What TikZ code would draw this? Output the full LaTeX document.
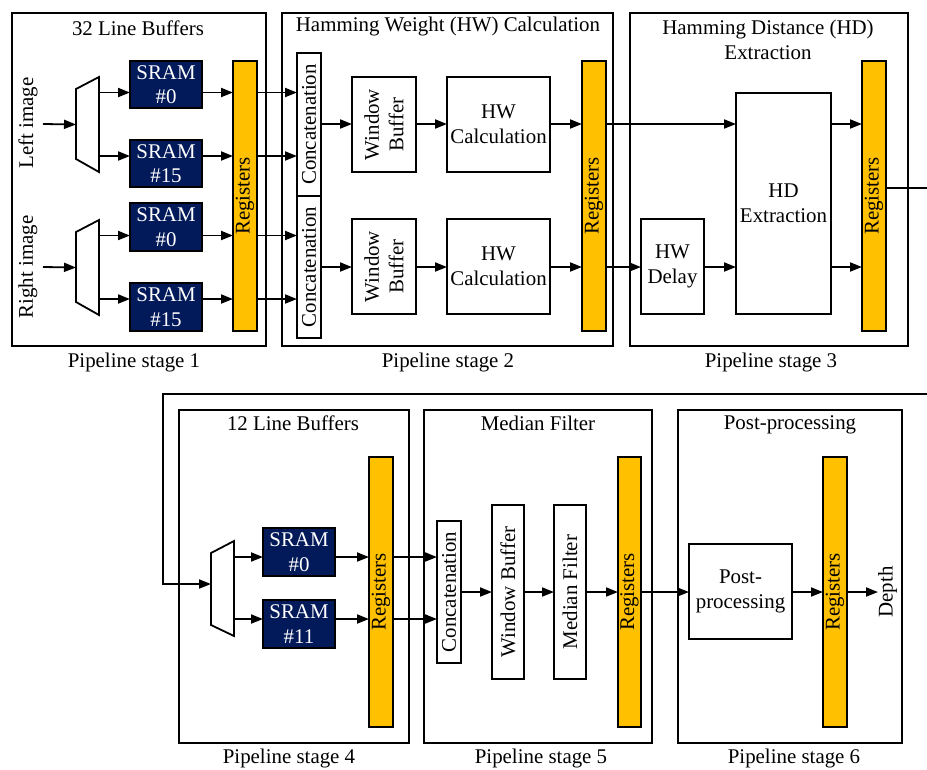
\documentclass[tikz,border=0pt]{standalone}
\usepackage{fontspec}
\setmainfont{Liberation Serif}
\usetikzlibrary{arrows.meta,calc}
\definecolor{sramblue}{RGB}{2,26,90}
\definecolor{regyellow}{RGB}{255,192,0}
\begin{document}
\begin{tikzpicture}[x=1pt,y=-1pt,
  font=\fontsize{20.9}{24.5}\selectfont,
  every node/.style={inner sep=0pt, outer sep=0pt},
  wire/.style={line width=1.8pt},
  arr/.style={line width=1.8pt, -{Triangle[length=12pt,width=9pt]}},
  stagebox/.style={draw, line width=1.8pt, minimum height=333pt},
  blk/.style={draw, line width=1.8pt, fill=white, align=center},
  sram/.style={draw, line width=1.8pt, fill=sramblue, text=white, align=center, minimum width=72pt, minimum height=47.5pt},
  reg/.style={draw, line width=1.8pt, fill=regyellow, minimum width=24pt, minimum height=270pt},
  vtext/.style={rotate=90, align=center},
  muxnode/.style={minimum width=23pt, minimum height=95pt},
]
\useasboundingbox (0,0) rectangle (927,769);

% ---------- stage boxes ----------
\node[stagebox, minimum width=254pt] (st1) at (139,179.5) {};
\node[stagebox, minimum width=331pt] (st2) at (447.5,179.5) {};
\node[stagebox, minimum width=278pt] (st3) at (769,179.5) {};
\node[stagebox, minimum width=230pt] (st4) at (294,576.5) {};
\node[stagebox, minimum width=228pt] (st5) at (538,576.5) {};
\node[stagebox, minimum width=224pt] (st6) at (790,576.5) {};

% titles
\node (t1) at (138,28) {32 Line Buffers};
\node (t2) at (448,27) {Hamming Weight (HW) Calculation};
\node[align=center] (t3) at (768,40) {Hamming Distance (HD)\\Extraction};
\node (t4) at (293,423) {12 Line Buffers};
\node (t5) at (538,423) {Median Filter};
\node (t6) at (790,425) {Post-processing};

% captions
\node (c1) at (134,362) {Pipeline stage 1};
\node (c2) at (448,362) {Pipeline stage 2};
\node (c3) at (771,362) {Pipeline stage 3};
\node (c4) at (289,758) {Pipeline stage 4};
\node (c5) at (541,758) {Pipeline stage 5};
\node (c6) at (794,758) {Pipeline stage 6};

% ---------- arrow levels ----------
\coordinate (ya1) at (0,92.5);
\coordinate (ya2) at (0,156);
\coordinate (ya3) at (0,235.5);
\coordinate (ya4) at (0,299);
\coordinate (yb1) at (0,124);
\coordinate (yb2) at (0,267);
\coordinate (yo) at (0,188);
\coordinate (yc1) at (0,557);
\coordinate (yc2) at (0,619);
\coordinate (yin4) at (0,584);
\coordinate (yd) at (0,592);

% ---------- stage 1 ----------
\node[vtext] (limg) at (28,123) {Left image};
\node[vtext] (rimg) at (28,267) {Right image};
\coordinate (in1) at (43,124);
\coordinate (in2) at (43,267);

\node[muxnode] (m1) at (87.5,124.5) {};
\node[muxnode] (m2) at (87.5,267.5) {};
\draw[wire] ($(m1.north west)+(0,12)$) -- (m1.north east) -- (m1.south east) -- ($(m1.south west)+(0,-13)$) -- cycle;
\draw[wire] ($(m2.north west)+(0,12)$) -- (m2.north east) -- (m2.south east) -- ($(m2.south west)+(0,-13)$) -- cycle;

\node[sram] (s10) at (166,84.5) {SRAM\\\#0};
\node[sram] (s115) at (166,163.5) {SRAM\\\#15};
\node[sram] (s20) at (166,227) {SRAM\\\#0};
\node[sram] (s215) at (166,307) {SRAM\\\#15};

\node[reg] (r1) at (245,196) {};
\node[rotate=90] at (r1) {Registers};

\draw[arr] (in1) -- (m1.west);
\draw[arr] (in2) -- (m2.west);
\draw[arr] (m1.east |- ya1) -- (s10.west |- ya1);
\draw[arr] (m1.east |- ya2) -- (s115.west |- ya2);
\draw[arr] (m2.east |- ya3) -- (s20.west |- ya3);
\draw[arr] (m2.east |- ya4) -- (s215.west |- ya4);
\draw[arr] (s10.east |- ya1) -- (r1.west |- ya1);
\draw[arr] (s115.east |- ya2) -- (r1.west |- ya2);
\draw[arr] (s20.east |- ya3) -- (r1.west |- ya3);
\draw[arr] (s215.east |- ya4) -- (r1.west |- ya4);

% ---------- stage 2 ----------
\node[blk, minimum width=24pt, minimum height=143pt] (cc1) at (309,124.5) {};
\node[rotate=90] at (cc1) {Concatenation};
\node[blk, minimum width=24pt, minimum height=142pt] (cc2) at (309,267) {};
\node[rotate=90] at (cc2) {Concatenation};

\node[blk, minimum width=64pt, minimum height=95pt] (wb1) at (384,124.5) {};
\node[vtext] at (wb1) {Window\\Buffer};
\node[blk, minimum width=64pt, minimum height=95pt] (wb2) at (384,266.5) {};
\node[vtext] at (wb2) {Window\\Buffer};

\node[blk, minimum width=103pt, minimum height=95pt] (hw1) at (498.5,124.5) {HW\\Calculation};
\node[blk, minimum width=103pt, minimum height=95pt] (hw2) at (498.5,266.5) {HW\\Calculation};

\node[reg] (r2) at (594,196) {};
\node[rotate=90] at (r2) {Registers};

\draw[arr] (r1.east |- ya1) -- (cc1.west |- ya1);
\draw[arr] (r1.east |- ya2) -- (cc1.west |- ya2);
\draw[arr] (r1.east |- ya3) -- (cc2.west |- ya3);
\draw[arr] (r1.east |- ya4) -- (cc2.west |- ya4);
\draw[arr] (cc1.east |- yb1) -- (wb1.west |- yb1);
\draw[arr] (cc2.east |- yb2) -- (wb2.west |- yb2);
\draw[arr] (wb1.east |- yb1) -- (hw1.west |- yb1);
\draw[arr] (wb2.east |- yb2) -- (hw2.west |- yb2);
\draw[arr] (hw1.east |- yb1) -- (r2.west |- yb1);
\draw[arr] (hw2.east |- yb2) -- (r2.west |- yb2);

% ---------- stage 3 ----------
\node[blk, minimum width=63pt, minimum height=95pt] (hwd) at (672.5,266.5) {HW\\Delay};
\node[blk, minimum width=95pt, minimum height=221pt] (hd) at (783.5,203.5) {HD\\Extraction};
\node[reg] (r3) at (874,196) {};
\node[rotate=90] at (r3) {Registers};

\draw[arr] (r2.east |- yb1) -- (hd.west |- yb1);
\draw[arr] (r2.east |- yb2) -- (hwd.west |- yb2);
\draw[arr] (hwd.east |- yb2) -- (hd.west |- yb2);
\draw[arr] (hd.east |- yb1) -- (r3.west |- yb1);
\draw[arr] (hd.east |- yb2) -- (r3.west |- yb2);

\coordinate (outR) at (927,188);
\draw[wire] (r3.east |- yo) -- (outR);

% ---------- stage 4 ----------
\node[muxnode] (m4) at (222.5,588.5) {};
\draw[wire] ($(m4.north west)+(0,12)$) -- (m4.north east) -- (m4.south east) -- ($(m4.south west)+(0,-11)$) -- cycle;
\node[sram] (s40) at (299,552) {SRAM\\\#0};
\node[sram] (s411) at (299,624) {SRAM\\\#11};
\node[reg] (r4) at (381,592) {};
\node[rotate=90] at (r4) {Registers};

\coordinate (fbR) at (927,394);
\coordinate (fbC) at (163,394);
\coordinate (m4in) at (m4.west |- yin4);
\draw[arr] (fbR) -- (fbC) |- (m4in);

\draw[arr] (m4.east |- yc1) -- (s40.west |- yc1);
\draw[arr] (m4.east |- yc2) -- (s411.west |- yc2);
\draw[arr] (s40.east |- yc1) -- (r4.west |- yc1);
\draw[arr] (s411.east |- yc2) -- (r4.west |- yc2);

% ---------- stage 5 ----------
\node[blk, minimum width=24pt, minimum height=142pt] (cc5) at (449,592) {};
\node[rotate=90] at (cc5) {Concatenation};
\node[blk, minimum width=32pt, minimum height=174pt] (wb5) at (508,592) {};
\node[rotate=90] at (wb5) {Window Buffer};
\node[blk, minimum width=32pt, minimum height=174pt] (mf) at (570,592) {};
\node[rotate=90] at (mf) {Median Filter};
\node[reg, minimum width=23pt] (r5) at (629.5,592) {};
\node[rotate=90] at (r5) {Registers};

\draw[arr] (r4.east |- yc1) -- (cc5.west |- yc1);
\draw[arr] (r4.east |- yc2) -- (cc5.west |- yc2);
\draw[arr] (cc5.east |- yd) -- (wb5.west |- yd);
\draw[arr] (wb5.east |- yd) -- (mf.west |- yd);
\draw[arr] (mf.east |- yd) -- (r5.west |- yd);

% ---------- stage 6 ----------
\node[blk, minimum width=103pt, minimum height=95pt] (pp) at (740.5,591.5) {Post-\\processing};
\node[reg] (r6) at (835,592) {};
\node[rotate=90] at (r6) {Registers};
\node[rotate=90, anchor=north] (depth) at (878,592) {Depth};

\draw[arr] (r5.east |- yd) -- (pp.west |- yd);
\draw[arr] (pp.east |- yd) -- (r6.west |- yd);
\draw[arr] (r6.east |- yd) -- (depth.north);
\end{tikzpicture}
\end{document}
